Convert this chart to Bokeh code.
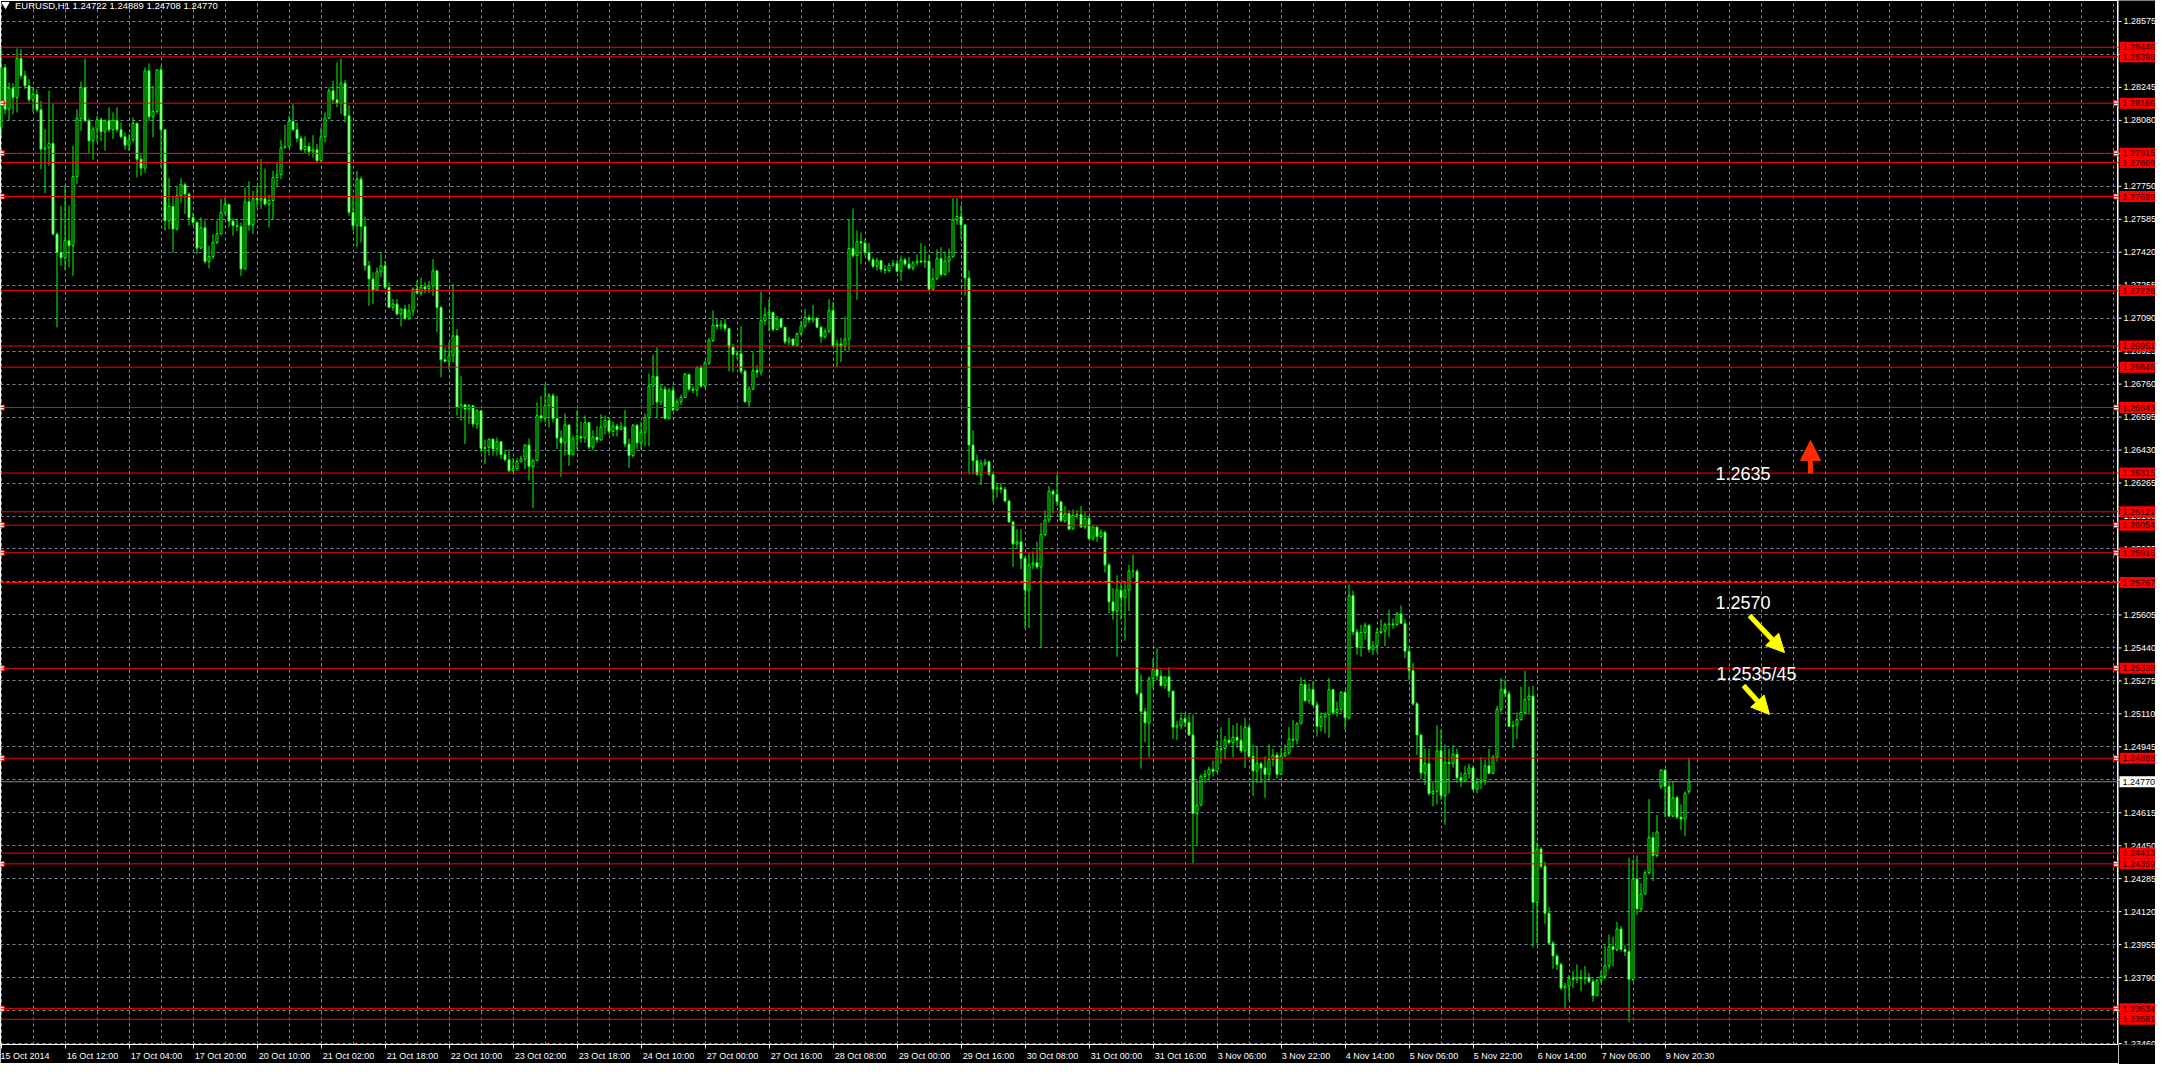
from bokeh.plotting import figure
from bokeh.layouts import row
from bokeh.models import (Range1d, FixedTicker, Span, Label, Arrow, NormalHead,
                          ColumnDataSource)
from bokeh.embed import file_html
from bokeh.resources import INLINE
from bokeh.core.properties import value

# ---------------- data (EURUSD H1) ----------------
first_open = 1.28045
open_overrides = {415: 1.24747, 422: 1.24722}

closes = [
1.28345, 1.28136, 1.28241, 1.28195, 1.28390, 1.28303, 1.28253, 1.28183, 1.28210, 1.28133,
1.27936, 1.27943, 1.27965, 1.27511, 1.27419, 1.27392, 1.27478, 1.27453, 1.27799, 1.28090,
1.28245, 1.28078, 1.27978, 1.28036, 1.28083, 1.28023, 1.28078, 1.28033, 1.28080, 1.28033,
1.27998, 1.27956, 1.27983, 1.28065, 1.27886, 1.27841, 1.28328, 1.28098, 1.28125, 1.28333,
1.28033, 1.27578, 1.27649, 1.27536, 1.27703, 1.27758, 1.27711, 1.27593, 1.27569, 1.27441,
1.27543, 1.27374, 1.27399, 1.27469, 1.27513, 1.27619, 1.27659, 1.27576, 1.27553, 1.27549,
1.27336, 1.27673, 1.27556, 1.27689, 1.27681, 1.27689, 1.27661, 1.27679, 1.27794, 1.27808,
1.27943, 1.27948, 1.28075, 1.28033, 1.27990, 1.27933, 1.27950, 1.27923, 1.27933, 1.27878,
1.27998, 1.28091, 1.28228, 1.28183, 1.28165, 1.28266, 1.28103, 1.27619, 1.27553, 1.27786,
1.27549, 1.27352, 1.27286, 1.27231, 1.27322, 1.27352, 1.27244, 1.27144, 1.27161, 1.27111,
1.27136, 1.27089, 1.27127, 1.27236, 1.27216, 1.27247, 1.27236, 1.27252, 1.27327, 1.27144,
1.26882, 1.26874, 1.26902, 1.27002, 1.26643, 1.26657, 1.26635, 1.26652, 1.26560, 1.26627,
1.26438, 1.26443, 1.26485, 1.26435, 1.26472, 1.26407, 1.26382, 1.26327, 1.26338, 1.26372,
1.26385, 1.26455, 1.26348, 1.26377, 1.26602, 1.26590, 1.26652, 1.26702, 1.26588, 1.26491,
1.26466, 1.26556, 1.26407, 1.26487, 1.26498, 1.26491, 1.26567, 1.26445, 1.26495, 1.26481,
1.26546, 1.26578, 1.26523, 1.26550, 1.26533, 1.26546, 1.26460, 1.26403, 1.26554, 1.26466,
1.26519, 1.26592, 1.26750, 1.26799, 1.26670, 1.26735, 1.26588, 1.26729, 1.26630, 1.26672,
1.26693, 1.26809, 1.26735, 1.26729, 1.26845, 1.26750, 1.26866, 1.26978, 1.27056, 1.27049,
1.27060, 1.27039, 1.26946, 1.26908, 1.26912, 1.26824, 1.26672, 1.26735, 1.26828, 1.26820,
1.27077, 1.27108, 1.27119, 1.27034, 1.27087, 1.27045, 1.26971, 1.26986, 1.26954, 1.27013,
1.27051, 1.27093, 1.27081, 1.27091, 1.27045, 1.26997, 1.27024, 1.27129, 1.26950, 1.26961,
1.26950, 1.26986, 1.27439, 1.27403, 1.27473, 1.27466, 1.27418, 1.27382, 1.27350, 1.27378,
1.27334, 1.27329, 1.27355, 1.27363, 1.27325, 1.27382, 1.27361, 1.27340, 1.27367, 1.27376,
1.27371, 1.27376, 1.27235, 1.27287, 1.27388, 1.27308, 1.27376, 1.27397, 1.27582, 1.27599,
1.27557, 1.27291, 1.26455, 1.26377, 1.26308, 1.26361, 1.26371, 1.26308, 1.26234, 1.26241,
1.26234, 1.26175, 1.26070, 1.25960, 1.25971, 1.25887, 1.25729, 1.25855, 1.25866, 1.25845,
1.26007, 1.26080, 1.26224, 1.26209, 1.26171, 1.26076, 1.26112, 1.26034, 1.26104, 1.26108,
1.26045, 1.26087, 1.25986, 1.26045, 1.25998, 1.26017, 1.25855, 1.25670, 1.25624, 1.25729,
1.25691, 1.25729, 1.25824, 1.25824, 1.25213, 1.25122, 1.25065, 1.25286, 1.25332, 1.25299,
1.25252, 1.25295, 1.25224, 1.25043, 1.25051, 1.25085, 1.25068, 1.25004, 1.24611, 1.24653,
1.24797, 1.24807, 1.24833, 1.24822, 1.24931, 1.24936, 1.24978, 1.24966, 1.24993, 1.24978,
1.24925, 1.25043, 1.24897, 1.24824, 1.24861, 1.24839, 1.24807, 1.24882, 1.24904, 1.24807,
1.24899, 1.24914, 1.24983, 1.24978, 1.25060, 1.25257, 1.25175, 1.25231, 1.25154, 1.25047,
1.25094, 1.25107, 1.25231, 1.25117, 1.25132, 1.25218, 1.25090, 1.25702, 1.25520, 1.25443,
1.25517, 1.25552, 1.25432, 1.25449, 1.25517, 1.25524, 1.25556, 1.25560, 1.25556, 1.25610,
1.25562, 1.25423, 1.25327, 1.25160, 1.25004, 1.24814, 1.24861, 1.24711, 1.24722, 1.24925,
1.24700, 1.24867, 1.24861, 1.24908, 1.24790, 1.24775, 1.24812, 1.24839, 1.24733, 1.24765,
1.24775, 1.24850, 1.24812, 1.24893, 1.25132, 1.25231, 1.25210, 1.25047, 1.25053, 1.25081,
1.25117, 1.25182, 1.25199, 1.24166, 1.24433, 1.24347, 1.24112, 1.23962, 1.23898, 1.23855,
1.23738, 1.23748, 1.23785, 1.23781, 1.23791, 1.23785, 1.23791, 1.23770, 1.23699, 1.23776,
1.23796, 1.23849, 1.23945, 1.23930, 1.24033, 1.23930, 1.23920, 1.23781, 1.24283, 1.24134,
1.24208, 1.24315, 1.24491, 1.24401, 1.24519, 1.24829, 1.24747, 1.24598, 1.24690, 1.24593,
1.24583, 1.24711, 1.24770,
]

highs = [
1.28445, 1.28362, 1.28270, 1.28266, 1.28440, 1.28437, 1.28328, 1.28286, 1.28245, 1.28236,
1.28178, 1.28036, 1.28228, 1.28161, 1.27519, 1.27653, 1.27756, 1.27653, 1.27953, 1.28136,
1.28275, 1.28390, 1.28090, 1.28050, 1.28103, 1.28095, 1.28085, 1.28145, 1.28120, 1.28145,
1.28070, 1.28020, 1.28011, 1.28095, 1.28070, 1.27911, 1.28345, 1.28365, 1.28253, 1.28336,
1.28353, 1.28036, 1.27791, 1.27703, 1.27749, 1.27791, 1.27769, 1.27719, 1.27619, 1.27575,
1.27594, 1.27578, 1.27453, 1.27511, 1.27578, 1.27689, 1.27694, 1.27664, 1.27591, 1.27589,
1.27569, 1.27744, 1.27775, 1.27728, 1.27753, 1.27886, 1.27839, 1.27708, 1.27828, 1.27873,
1.27983, 1.28058, 1.28103, 1.28161, 1.28070, 1.28003, 1.28000, 1.27970, 1.28006, 1.27961,
1.28045, 1.28120, 1.28245, 1.28278, 1.28370, 1.28390, 1.28283, 1.28156, 1.27703, 1.27828,
1.27799, 1.27599, 1.27377, 1.27319, 1.27344, 1.27419, 1.27377, 1.27269, 1.27186, 1.27186,
1.27139, 1.27156, 1.27161, 1.27244, 1.27277, 1.27294, 1.27269, 1.27277, 1.27386, 1.27332,
1.27152, 1.26944, 1.26969, 1.27261, 1.27035, 1.26799, 1.26660, 1.26660, 1.26643, 1.26635,
1.26543, 1.26482, 1.26488, 1.26485, 1.26493, 1.26472, 1.26427, 1.26435, 1.26390, 1.26390,
1.26402, 1.26460, 1.26488, 1.26385, 1.26668, 1.26702, 1.26760, 1.26715, 1.26715, 1.26702,
1.26529, 1.26613, 1.26529, 1.26504, 1.26628, 1.26571, 1.26603, 1.26498, 1.26529, 1.26550,
1.26609, 1.26603, 1.26592, 1.26571, 1.26561, 1.26571, 1.26630, 1.26487, 1.26561, 1.26561,
1.26571, 1.26613, 1.26813, 1.26908, 1.26944, 1.26761, 1.26750, 1.26740, 1.26750, 1.26687,
1.26708, 1.26818, 1.26771, 1.26750, 1.26849, 1.26855, 1.26877, 1.26992, 1.27129, 1.27087,
1.27081, 1.27087, 1.27034, 1.26961, 1.26929, 1.27051, 1.26834, 1.26750, 1.26919, 1.26855,
1.27224, 1.27144, 1.27182, 1.27123, 1.27102, 1.27087, 1.27045, 1.26997, 1.26982, 1.27018,
1.27077, 1.27136, 1.27108, 1.27157, 1.27087, 1.27051, 1.27039, 1.27186, 1.27171, 1.26982,
1.26992, 1.27098, 1.27582, 1.27639, 1.27529, 1.27519, 1.27487, 1.27466, 1.27392, 1.27392,
1.27382, 1.27355, 1.27367, 1.27382, 1.27382, 1.27403, 1.27392, 1.27397, 1.27376, 1.27409,
1.27466, 1.27452, 1.27409, 1.27340, 1.27435, 1.27445, 1.27424, 1.27439, 1.27692, 1.27692,
1.27656, 1.27561, 1.27329, 1.26529, 1.26407, 1.26382, 1.26386, 1.26377, 1.26319, 1.26266,
1.26266, 1.26245, 1.26182, 1.26076, 1.26034, 1.26034, 1.25897, 1.25918, 1.25922, 1.25971,
1.26066, 1.26129, 1.26251, 1.26234, 1.26308, 1.26175, 1.26150, 1.26129, 1.26133, 1.26129,
1.26150, 1.26118, 1.26097, 1.26055, 1.26034, 1.26034, 1.26028, 1.25866, 1.25739, 1.25803,
1.25767, 1.25775, 1.25855, 1.25908, 1.25834, 1.25307, 1.25139, 1.25297, 1.25385, 1.25438,
1.25332, 1.25299, 1.25342, 1.25068, 1.25075, 1.25117, 1.25107, 1.25107, 1.25107, 1.24775,
1.24807, 1.24829, 1.24846, 1.24876, 1.24978, 1.25043, 1.25000, 1.25090, 1.25053, 1.25064,
1.25053, 1.25090, 1.25053, 1.24957, 1.24946, 1.24871, 1.24897, 1.24957, 1.24936, 1.24918,
1.24936, 1.24957, 1.25043, 1.25081, 1.25068, 1.25295, 1.25282, 1.25261, 1.25274, 1.25171,
1.25117, 1.25117, 1.25289, 1.25235, 1.25171, 1.25224, 1.25224, 1.25759, 1.25727, 1.25535,
1.25556, 1.25567, 1.25560, 1.25475, 1.25539, 1.25582, 1.25567, 1.25631, 1.25588, 1.25620,
1.25652, 1.25582, 1.25449, 1.25364, 1.25171, 1.25011, 1.24936, 1.24936, 1.24765, 1.25053,
1.25032, 1.24957, 1.24936, 1.24953, 1.24936, 1.24818, 1.24850, 1.24861, 1.24850, 1.24790,
1.24893, 1.24882, 1.24936, 1.24904, 1.25150, 1.25289, 1.25282, 1.25224, 1.25075, 1.25117,
1.25246, 1.25325, 1.25246, 1.25250, 1.24465, 1.24444, 1.24369, 1.24144, 1.23973, 1.23908,
1.23866, 1.23763, 1.23802, 1.23823, 1.23856, 1.23828, 1.23849, 1.23813, 1.23785, 1.23785,
1.23823, 1.23952, 1.24005, 1.23995, 1.24069, 1.24048, 1.23952, 1.24390, 1.24380, 1.24401,
1.24262, 1.24326, 1.24683, 1.24519, 1.24604, 1.24833, 1.24829, 1.24775, 1.24775, 1.24700,
1.24657, 1.24722, 1.24889,
]

lows = [
1.28003, 1.28111, 1.28078, 1.28111, 1.28120, 1.28286, 1.28236, 1.28170, 1.28123, 1.28120,
1.27836, 1.27716, 1.27853, 1.27503, 1.27044, 1.27352, 1.27332, 1.27344, 1.27302, 1.27761,
1.28028, 1.28073, 1.27916, 1.27883, 1.27970, 1.27978, 1.27928, 1.28020, 1.27986, 1.28020,
1.27990, 1.27933, 1.27928, 1.27970, 1.27794, 1.27803, 1.27819, 1.28078, 1.27995, 1.28111,
1.27844, 1.27528, 1.27536, 1.27419, 1.27528, 1.27669, 1.27611, 1.27553, 1.27553, 1.27411,
1.27436, 1.27364, 1.27339, 1.27386, 1.27461, 1.27503, 1.27606, 1.27544, 1.27503, 1.27526,
1.27302, 1.27336, 1.27528, 1.27511, 1.27644, 1.27636, 1.27653, 1.27544, 1.27583, 1.27749,
1.27786, 1.27940, 1.27945, 1.28028, 1.27970, 1.27928, 1.27916, 1.27903, 1.27894, 1.27869,
1.27869, 1.27970, 1.28086, 1.28161, 1.28145, 1.28111, 1.28070, 1.27603, 1.27528, 1.27444,
1.27469, 1.27327, 1.27152, 1.27161, 1.27227, 1.27294, 1.27236, 1.27141, 1.27127, 1.27102,
1.27049, 1.27082, 1.27080, 1.27102, 1.27211, 1.27202, 1.27216, 1.27216, 1.27202, 1.27019,
1.26794, 1.26869, 1.26835, 1.26869, 1.26602, 1.26577, 1.26460, 1.26560, 1.26543, 1.26535,
1.26418, 1.26360, 1.26402, 1.26402, 1.26402, 1.26385, 1.26372, 1.26318, 1.26318, 1.26327,
1.26368, 1.26335, 1.26277, 1.26140, 1.26385, 1.26568, 1.26568, 1.26543, 1.26568, 1.26434,
1.26297, 1.26403, 1.26350, 1.26403, 1.26434, 1.26466, 1.26466, 1.26434, 1.26428, 1.26466,
1.26476, 1.26508, 1.26508, 1.26498, 1.26498, 1.26529, 1.26445, 1.26339, 1.26392, 1.26434,
1.26434, 1.26449, 1.26449, 1.26655, 1.26588, 1.26655, 1.26582, 1.26582, 1.26624, 1.26630,
1.26655, 1.26729, 1.26723, 1.26714, 1.26698, 1.26740, 1.26740, 1.26855, 1.26971, 1.27034,
1.27034, 1.27024, 1.26824, 1.26820, 1.26887, 1.26813, 1.26666, 1.26645, 1.26729, 1.26792,
1.26803, 1.27056, 1.27024, 1.27024, 1.27030, 1.27039, 1.26961, 1.26954, 1.26946, 1.26946,
1.27003, 1.27039, 1.27066, 1.27066, 1.27039, 1.26967, 1.26988, 1.27013, 1.26946, 1.26845,
1.26870, 1.26925, 1.26929, 1.27392, 1.27182, 1.27361, 1.27403, 1.27371, 1.27340, 1.27329,
1.27319, 1.27312, 1.27319, 1.27346, 1.27319, 1.27277, 1.27350, 1.27333, 1.27329, 1.27355,
1.27367, 1.27340, 1.27228, 1.27228, 1.27283, 1.27298, 1.27304, 1.27319, 1.27392, 1.27557,
1.27487, 1.27203, 1.26308, 1.26308, 1.26302, 1.26255, 1.26350, 1.26302, 1.26171, 1.26192,
1.26213, 1.26167, 1.26066, 1.25845, 1.25939, 1.25834, 1.25539, 1.25539, 1.25834, 1.25834,
1.25438, 1.25998, 1.26066, 1.26112, 1.26150, 1.26070, 1.26066, 1.26028, 1.26034, 1.26087,
1.26041, 1.26034, 1.25981, 1.25977, 1.25971, 1.25986, 1.25817, 1.25613, 1.25581, 1.25396,
1.25581, 1.25476, 1.25624, 1.25792, 1.25202, 1.24836, 1.24968, 1.24893, 1.25235, 1.25278,
1.25246, 1.25235, 1.25192, 1.24983, 1.24978, 1.25032, 1.25043, 1.25000, 1.24362, 1.24454,
1.24647, 1.24765, 1.24775, 1.24797, 1.24818, 1.24861, 1.24882, 1.24957, 1.24893, 1.24940,
1.24914, 1.24839, 1.24889, 1.24700, 1.24765, 1.24765, 1.24690, 1.24775, 1.24850, 1.24786,
1.24807, 1.24893, 1.24904, 1.24940, 1.24957, 1.25060, 1.25171, 1.25160, 1.25150, 1.24996,
1.25021, 1.25011, 1.24989, 1.25107, 1.25096, 1.25107, 1.25032, 1.25081, 1.25502, 1.25406,
1.25396, 1.25481, 1.25417, 1.25406, 1.25417, 1.25509, 1.25449, 1.25492, 1.25535, 1.25550,
1.25560, 1.25389, 1.25278, 1.25150, 1.24904, 1.24782, 1.24754, 1.24700, 1.24647, 1.24657,
1.24679, 1.24555, 1.24711, 1.24839, 1.24765, 1.24743, 1.24782, 1.24786, 1.24726, 1.24711,
1.24733, 1.24754, 1.24807, 1.24807, 1.24871, 1.25117, 1.25192, 1.25043, 1.24940, 1.24983,
1.25075, 1.25107, 1.25107, 1.23941, 1.23962, 1.24337, 1.24059, 1.23952, 1.23834, 1.23828,
1.23727, 1.23627, 1.23678, 1.23738, 1.23763, 1.23721, 1.23755, 1.23763, 1.23669, 1.23699,
1.23763, 1.23781, 1.23834, 1.23845, 1.23920, 1.23920, 1.23898, 1.23567, 1.23770, 1.24102,
1.24123, 1.24208, 1.24305, 1.24273, 1.24390, 1.24733, 1.24593, 1.24593, 1.24593, 1.24583,
1.24529, 1.24497, 1.24708,
]

time_labels = ["15 Oct 2014", "16 Oct 12:00", "17 Oct 04:00", "17 Oct 20:00", "20 Oct 10:00",
               "21 Oct 02:00", "21 Oct 18:00", "22 Oct 10:00", "23 Oct 02:00", "23 Oct 18:00",
               "24 Oct 10:00", "27 Oct 00:00", "27 Oct 16:00", "28 Oct 08:00", "29 Oct 00:00",
               "29 Oct 16:00", "30 Oct 08:00", "31 Oct 00:00", "31 Oct 16:00", "3 Nov 06:00",
               "3 Nov 22:00", "4 Nov 14:00", "5 Nov 06:00", "5 Nov 22:00", "6 Nov 14:00",
               "7 Nov 06:00", "9 Nov 20:30"]
bars_per_label = 16
bars_per_grid = 8

price_ticks = [1.23460, 1.23625, 1.23790, 1.23955, 1.24120, 1.24285, 1.24450, 1.24615,
               1.24780, 1.24945, 1.25110, 1.25275, 1.25440, 1.25605, 1.25770, 1.25935,
               1.26100, 1.26265, 1.26430, 1.26595, 1.26760, 1.26925, 1.27090, 1.27255,
               1.27420, 1.27585, 1.27750, 1.27915, 1.28080, 1.28245, 1.28410, 1.28575]

levels = [1.28446, 1.28398, 1.28166, 1.27915, 1.27869, 1.27699, 1.27228, 1.26951, 1.26845,
          1.26643, 1.26315, 1.26121, 1.26054, 1.25916, 1.25767, 1.25338, 1.24888, 1.24413,
          1.24359, 1.23634, 1.23581]
anchored_levels = [1.28166, 1.27915, 1.27699, 1.26643, 1.26054, 1.25916, 1.25338, 1.24888,
                   1.24359, 1.23634]
current_price = 1.24770
title_text = "EURUSD,H1  1.24722 1.24889 1.24708 1.24770"
note_texts = ["1.2635", "1.2570", "1.2535/45"]

# ---------------- layout / style ----------------
PX_PER_BAR = 4
FRAME_W, FRAME_H = 2118, 1044
STRIP_W = 37
X0 = -0.125
X1 = X0 + FRAME_W / PX_PER_BAR
Y_LO, Y_HI = 1.23455, 1.28680
PRICE_PER_PX = (Y_HI - Y_LO) / FRAME_H
GRID = "#778899"
LIME = "#00ff00"
FONT = "Liberation Sans"
SMALL = "9px"

def bx(page_x):   # page pixel -> bar units
    return X0 + (page_x - 8) / PX_PER_BAR

def py(page_y):   # page pixel -> price
    return Y_HI - (page_y - 8) * PRICE_PER_PX

# left-aligned look for centred tick labels: pad with no-break spaces of equal width
ARIAL_W = {" ": 278, ":": 278, "O": 778, "c": 500, "t": 278, "N": 722, "o": 556, "v": 500}
def left_aligned(lab):
    w = sum(ARIAL_W.get(ch, 556) for ch in lab)
    return "\u00a0" * (round(w / 278) + 1) + lab

n = len(closes)
opens = [first_open] + closes[:-1]
for k, v in open_overrides.items():
    opens[k] = v
hi = [max(h, o, c) for h, o, c in zip(highs, opens, closes)]
lo = [min(l, o, c) for l, o, c in zip(lows, opens, closes)]
xs = list(range(n))

up = [i for i in xs if closes[i] >= opens[i]]
dn = [i for i in xs if closes[i] < opens[i]]
src_all = ColumnDataSource(dict(x=xs, h=hi, l=lo))
src_up = ColumnDataSource(dict(x=up, top=[closes[i] for i in up], bottom=[opens[i] for i in up]))
src_dn = ColumnDataSource(dict(x=dn, top=[opens[i] for i in dn], bottom=[closes[i] for i in dn]))

p = figure(frame_width=FRAME_W, frame_height=FRAME_H, title=None,
           x_range=Range1d(X0, X1), y_range=Range1d(Y_LO, Y_HI),
           y_axis_location=None, output_backend="svg", toolbar_location=None,
           min_border_left=0, min_border_top=0, min_border_right=0, min_border_bottom=0,
           background_fill_color="black", border_fill_color="black",
           outline_line_color="white", outline_line_width=1)

# x axis & grid
label_ticks = [i * bars_per_label for i in range(len(time_labels))]
grid_ticks = list(range(0, int(X1) + 1, bars_per_grid))
xt = FixedTicker(ticks=label_ticks, minor_ticks=grid_ticks)
yt = FixedTicker(ticks=price_ticks)
p.xaxis.ticker = xt
p.xgrid.ticker = xt
p.ygrid.ticker = yt
overrides = {t: left_aligned(lab) for t, lab in zip(label_ticks, time_labels)}
overrides[label_ticks[0]] = time_labels[0]   # first label is kept inside the canvas
p.xaxis.major_label_overrides = overrides
p.xaxis.axis_line_color = "white"
p.xaxis.major_tick_line_color = "white"
p.xaxis.major_tick_out = 4
p.xaxis.major_tick_in = 0
p.xaxis.minor_tick_line_color = None
p.xaxis.major_label_standoff = 2
p.xaxis.major_label_text_color = "white"
p.xaxis.major_label_text_font = FONT
p.xaxis.major_label_text_font_size = SMALL
for g in (p.xgrid, p.ygrid):
    g.grid_line_color = GRID
    g.grid_line_dash = "3 3"
    g.grid_line_width = 1
p.xgrid.minor_grid_line_color = GRID
p.xgrid.minor_grid_line_dash = "3 3"

# candles
p.segment(x0="x", y0="h", x1="x", y1="l", source=src_all, line_color=LIME, line_width=1)
p.vbar(x="x", width=0.5, top="top", bottom="bottom", source=src_up,
       fill_color="black", line_color=LIME, line_width=1)
p.vbar(x="x", width=0.5, top="top", bottom="bottom", source=src_dn,
       fill_color="white", line_color=LIME, line_width=1)

# horizontal levels
p.add_layout(Span(location=current_price, dimension="width", line_color=GRID, line_width=1))
for lvl in levels:
    p.add_layout(Span(location=lvl, dimension="width", line_color="#ff0000", line_width=1))
na = len(anchored_levels)
p.scatter(x=[X0 + 0.3] * na + [X1 - 0.6] * na, y=anchored_levels * 2, marker="square",
          size=5, fill_color="white", line_color="#ff0000", line_width=1)

# title
p.scatter(x=[bx(13)], y=[py(12)], marker="inverted_triangle", size=7,
          fill_color="white", line_color="white")
p.add_layout(Label(x=bx(22.5), y=py(12.5), text=title_text, text_baseline="middle",
                   text_color="white", text_font=FONT, text_font_size="9.5px"))

# notes and arrows
for txt, (nx, ny) in zip(note_texts, [(1723, 481), (1723, 610), (1724, 681)]):
    p.add_layout(Label(x=bx(nx), y=py(ny), text=txt, text_baseline="alphabetic",
                       text_align="left", text_color="white", text_font=FONT,
                       text_font_size="18px"))

RED_ARROW = "#ff2a00"
YELLOW = "#ffff00"
p.add_layout(Arrow(end=NormalHead(size=20, fill_color=RED_ARROW, line_color=RED_ARROW),
                   x_start=bx(1818), y_start=py(481), x_end=bx(1818), y_end=py(448),
                   line_color=RED_ARROW, line_width=5))
for (sx, sy, ex, ey) in [(1757, 623, 1792, 660), (1751, 693, 1777, 722)]:
    p.add_layout(Arrow(end=NormalHead(size=18, fill_color=YELLOW, line_color=YELLOW),
                       x_start=bx(sx), y_start=py(sy), x_end=bx(ex), y_end=py(ey),
                       line_color=YELLOW, line_width=5))

# ---------------- price scale strip (shares the price range) ----------------
q = figure(frame_width=STRIP_W, frame_height=FRAME_H, title=None,
           x_range=Range1d(0, STRIP_W), y_range=p.y_range,
           x_axis_location=None, y_axis_location=None,
           output_backend="svg", toolbar_location=None,
           min_border_left=0, min_border_top=0, min_border_right=0, min_border_bottom=20,
           background_fill_color="black", border_fill_color="black",
           outline_line_color=None)
q.xgrid.visible = False
q.ygrid.visible = False
q.segment(x0=[0] * len(price_ticks), x1=[3] * len(price_ticks), y0=price_ticks,
          y1=price_ticks, line_color="white", line_width=1)
q.text(x=[5] * len(price_ticks), y=price_ticks, text=["%.5f" % v for v in price_ticks],
       text_baseline="middle", text_align="left", text_color="white",
       text_font=value(FONT), text_font_size=SMALL)
q.rect(x=[STRIP_W / 2 + 0.5] * len(levels), y=levels, width=STRIP_W - 1, height=11,
       height_units="screen", fill_color="#ff0000", line_color=None)
q.text(x=[4] * len(levels), y=levels, text=["%.5f" % v for v in levels],
       text_baseline="middle", text_align="left", text_color="#1a0000",
       text_font=value(FONT), text_font_size=SMALL)
q.rect(x=[STRIP_W / 2 + 0.5], y=[current_price], width=STRIP_W - 1, height=11,
       height_units="screen", fill_color="white", line_color=None)
q.text(x=[4], y=[current_price], text=["%.5f" % current_price],
       text_baseline="middle", text_align="left", text_color="black",
       text_font=value(FONT), text_font_size=SMALL)

layout = row(p, q)
open("out.html", "w").write(file_html(layout, INLINE))
